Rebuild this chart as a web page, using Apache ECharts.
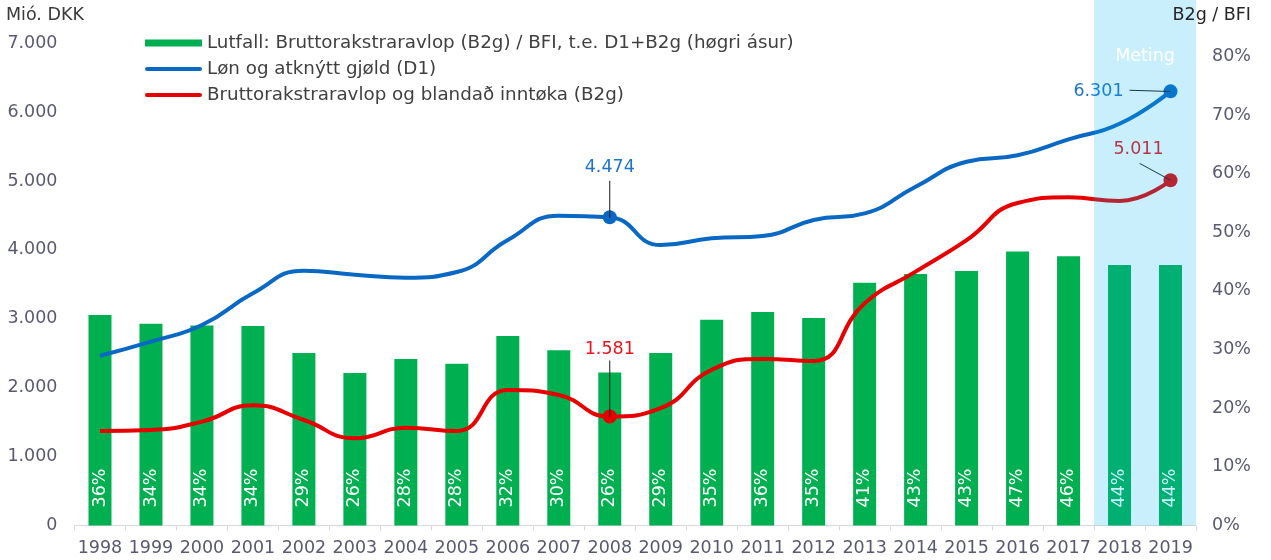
<!DOCTYPE html>
<html>
<head>
<meta charset="utf-8">
<script src="https://cdn.jsdelivr.net/npm/echarts@6/dist/echarts.min.js"></script>
<style>
html,body{margin:0;padding:0;background:#fff;}
#chart{width:1271px;height:560px;}
</style>
</head>
<body>
<div id="chart"></div>
<script>
const categories = ['1998','1999','2000','2001','2002','2003','2004','2005','2006','2007','2008','2009','2010','2011','2012','2013','2014','2015','2016','2017','2018','2019'];
const ratioB2gBfi = [35.9, 34.4, 34.1, 34.0, 29.4, 26.0, 28.4, 27.6, 32.3, 29.9, 26.1, 29.4, 35.1, 36.4, 35.4, 41.4, 42.9, 43.4, 46.7, 45.9, 44.4, 44.4];
const wagesD1 = [2464, 2668, 2910, 3370, 3698, 3640, 3597, 3680, 4143, 4497, 4474, 4071, 4168, 4202, 4434, 4531, 4917, 5280, 5373, 5605, 5830, 6301];
const surplusB2g = [1372, 1386, 1507, 1744, 1531, 1265, 1420, 1372, 1967, 1894, 1581, 1705, 2260, 2417, 2387, 3225, 3684, 4143, 4680, 4763, 4710, 5011];
const forecastYears = ['2018', '2019'];
const markedYears = ['2008', '2019'];
const seriesNames = [
  'Lutfall: Bruttorakstraravlop (B2g) / BFI, t.e. D1+B2g (høgri ásur)',
  'Løn og atknýtt gjøld (D1)',
  'Bruttorakstraravlop og blandað inntøka (B2g)'
];
const leftTickMax = 7000;
const rightTickMax = 80;

const FONT = 'DejaVu Sans';
const AXIS_COLOR = '#595971';
const GREEN = '#00B050';
const BLUE = '#0868C4';
const RED = '#E60000';
const LINE_ICON = 'path://M2,0 L55,0 A2,2 0 0 1 55,4 L2,4 A2,2 0 0 1 2,0 Z';

function fmtThousands(v) {
  const s = String(Math.round(v));
  return s.replace(/\B(?=(\d{3})+(?!\d))/g, '.');
}

// label placement and leader-line styling per annotated year (styles only)
const blueAnno = {
  '2008': { label: { position: 'top', distance: 34 }, leader: { size: [1, 37], offset: [0, -18], rotate: 0 } },
  '2019': { label: { position: 'left', distance: 40 }, leader: { size: [41, 1], offset: [-20.5, -0.5], rotate: -2 } }
};
const redAnno = {
  '2008': { label: { position: 'top', distance: 51 }, leader: { size: [1, 56], offset: [0, -28], rotate: 0 } },
  '2019': { label: { position: 'top', distance: 15, offset: [-32, 0] }, leader: { size: [35, 1], offset: [-15.5, -8.5], rotate: -28.7 } }
};

function buildLine(values, color, labelColor, anno) {
  return values.map((v, i) => {
    const year = categories[i];
    if (markedYears.indexOf(year) === -1) return v;
    return {
      value: v,
      symbol: 'circle',
      symbolSize: 14,
      itemStyle: { color: color },
      label: Object.assign({
        show: true,
        color: labelColor,
        fontFamily: FONT,
        fontSize: 17.5,
        formatter: p => fmtThousands(p.value)
      }, anno[year].label)
    };
  });
}

function buildLeaders(values, anno) {
  const out = [];
  values.forEach((v, i) => {
    const year = categories[i];
    if (markedYears.indexOf(year) === -1) return;
    const l = anno[year].leader;
    out.push({
      coord: [year, v],
      symbol: 'rect',
      symbolSize: l.size,
      symbolOffset: l.offset,
      symbolRotate: l.rotate,
      itemStyle: { color: '#1a1a1a' },
      label: { show: false }
    });
  });
  return out;
}

const chart = echarts.init(document.getElementById('chart'));
chart.setOption({
  animation: false,
  textStyle: { fontFamily: FONT },
  title: [
    { text: 'Mió. DKK', left: 6, top: 6, padding: 0, textStyle: { fontFamily: FONT, fontSize: 17.5, fontWeight: 'normal', color: '#3a3a3a' } },
    { text: 'B2g / BFI', right: 20, top: 6, padding: 0, textStyle: { fontFamily: FONT, fontSize: 17.5, fontWeight: 'normal', color: '#262626' } }
  ],
  legend: {
    orient: 'vertical',
    left: 145,
    top: 34,
    padding: 0,
    itemWidth: 57,
    itemHeight: 7,
    itemGap: 8,
    textStyle: { fontFamily: FONT, fontSize: 18.3, color: '#404040' },
    data: [
      { name: seriesNames[0], icon: 'rect' },
      { name: seriesNames[1], icon: LINE_ICON },
      { name: seriesNames[2], icon: LINE_ICON }
    ]
  },
  grid: { left: 74.5, right: 75, top: 0, bottom: 34.5, containLabel: false },
  xAxis: {
    type: 'category',
    data: categories,
    axisLine: { lineStyle: { color: '#d9d9d9', width: 1 } },
    axisTick: { show: true, length: 5, lineStyle: { color: '#d9d9d9' } },
    axisLabel: { color: AXIS_COLOR, fontSize: 17.5, fontFamily: FONT, margin: 14, interval: 0 },
    splitLine: { show: false }
  },
  yAxis: [
    {
      type: 'value', min: 0, max: 7627, interval: 1000,
      axisLine: { show: false }, axisTick: { show: false }, splitLine: { show: false },
      axisLabel: {
        color: AXIS_COLOR, fontSize: 17.5, fontFamily: FONT, margin: 17,
        formatter: v => (v <= leftTickMax ? fmtThousands(v) : '')
      }
    },
    {
      type: 'value', min: 0, max: 89.6, interval: 10,
      axisLine: { show: false }, axisTick: { show: false }, splitLine: { show: false },
      axisLabel: {
        color: AXIS_COLOR, fontSize: 17.5, fontFamily: FONT, margin: 16,
        formatter: v => (v <= rightTickMax ? Math.round(v) + '%' : '')
      }
    }
  ],
  series: [
    {
      name: seriesNames[0],
      type: 'bar',
      yAxisIndex: 1,
      data: ratioB2gBfi,
      barWidth: 23,
      itemStyle: { color: GREEN },
      label: {
        show: true,
        position: 'insideBottom',
        rotate: 90,
        align: 'left',
        verticalAlign: 'middle',
        distance: 18,
        color: '#ffffff',
        fontFamily: FONT,
        fontSize: 17.5,
        formatter: p => Math.round(p.value) + '%'
      },
      markArea: {
        z: 5,
        silent: true,
        itemStyle: { color: 'rgba(0,176,240,0.21)' },
        label: {
          show: true,
          position: 'insideTop',
          distance: 47,
          color: '#ffffff',
          fontFamily: FONT,
          fontSize: 17.5
        },
        data: [[{ name: 'Meting', xAxis: forecastYears[0] }, { xAxis: forecastYears[forecastYears.length - 1] }]]
      }
    },
    {
      name: seriesNames[1],
      type: 'line',
      yAxisIndex: 0,
      smooth: 0.5,
      symbol: 'none',
      lineStyle: { color: BLUE, width: 4 },
      itemStyle: { color: BLUE },
      label: { show: false },
      data: buildLine(wagesD1, BLUE, '#1f74c9', blueAnno),
      markPoint: { z: 4, silent: true, data: buildLeaders(wagesD1, blueAnno) }
    },
    {
      name: seriesNames[2],
      type: 'line',
      yAxisIndex: 0,
      smooth: 0.5,
      symbol: 'none',
      lineStyle: { color: RED, width: 4 },
      itemStyle: { color: RED },
      label: { show: false },
      data: buildLine(surplusB2g, RED, '#e8141c', redAnno),
      markPoint: { z: 4, silent: true, data: buildLeaders(surplusB2g, redAnno) }
    }
  ]
});
</script>
</body>
</html>
